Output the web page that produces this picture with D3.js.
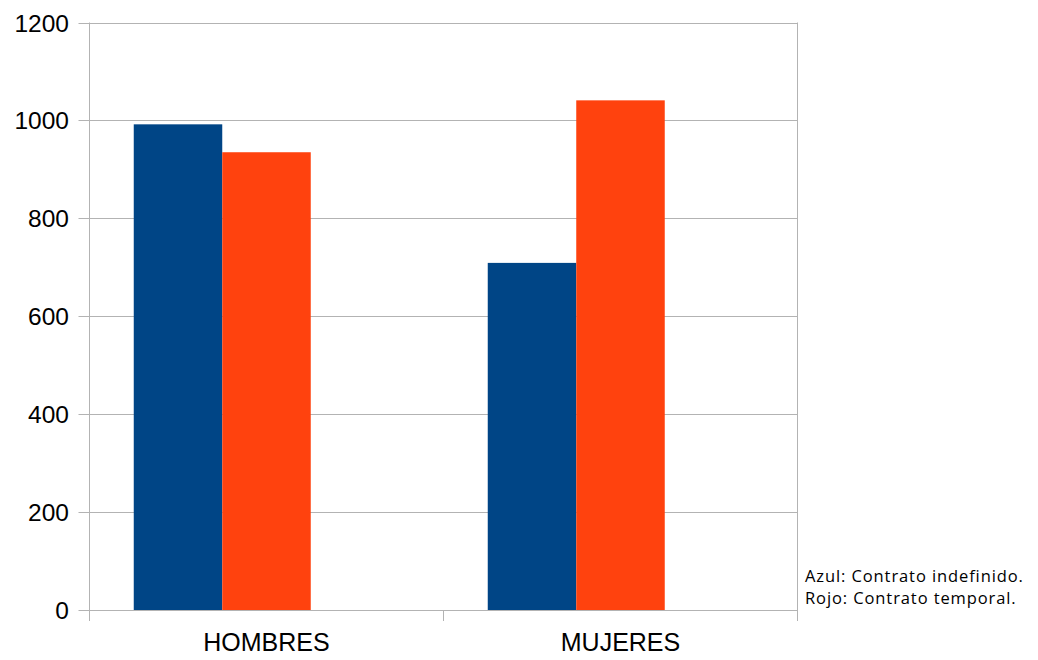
<!DOCTYPE html>
<html><head><meta charset="utf-8">
<script src="https://cdn.jsdelivr.net/npm/d3@7"></script>
<style>body{margin:0;background:#fff}</style>
</head><body>
<svg id="c" width="1038" height="660"></svg>
<script>
const categories = ["HOMBRES", "MUJERES"];
const seriesNames = ["Contrato indefinido", "Contrato temporal"];
const indefinido = [992, 709];
const temporal = [935, 1041];
const yTicks = [0, 200, 400, 600, 800, 1000, 1200];
const legendLines = ["Azul: Contrato indefinido.", "Rojo: Contrato temporal."];
const colors = ["#004586", "#ff420e"];

(function () {
const svg = d3.select("#c");
const mLeft = 89.5, mRight = 797.5, mTop = 22.5, mBottom = 610;
const x = d3.scaleBand().domain(categories).range([mLeft, mRight]).padding(0);
const xi = d3.scaleBand().domain(seriesNames).range([0, x.bandwidth() * 0.75]).paddingOuter(0.5).paddingInner(0);
const y = d3.scaleLinear().domain([0, 1200]).range([mBottom, mTop]);

// gridlines
svg.append("g").selectAll("line").data(yTicks).join("line")
  .attr("x1", mLeft - 11).attr("x2", mRight)
  .attr("y1", d => Math.round(y(d)) + 0.5).attr("y2", d => Math.round(y(d)) + 0.5)
  .attr("stroke", "#b3b3b3").attr("stroke-width", 1);

// bars
const data = categories.map((c, i) => ({c, vals: [indefinido[i], temporal[i]]}));
const g = svg.append("g");
data.forEach(d => {
  d.vals.forEach((v, j) => {
    g.append("rect")
      .attr("x", x(d.c) + xi(seriesNames[j]))
      .attr("width", xi.bandwidth())
      .attr("y", y(v))
      .attr("height", y(0) - y(v))
      .attr("fill", colors[j]);
  });
});

// axis lines
const ax = svg.append("g").attr("stroke", "#b3b3b3").attr("stroke-width", 1);
ax.append("line").attr("x1", mLeft).attr("x2", mLeft).attr("y1", mTop).attr("y2", mBottom + 11);
ax.append("line").attr("x1", mRight).attr("x2", mRight).attr("y1", mTop).attr("y2", mBottom + 11);
ax.append("line").attr("x1", mLeft).attr("x2", mRight).attr("y1", Math.round(y(0)) + 0.5).attr("y2", Math.round(y(0)) + 0.5);
categories.slice(0, -1).forEach(c => {
  const px = x(c) + x.bandwidth();
  ax.append("line").attr("x1", px).attr("x2", px).attr("y1", mBottom).attr("y2", mBottom + 11);
});

// y labels
svg.append("g").selectAll("text").data(yTicks).join("text")
  .attr("x", 69).attr("y", d => y(d) + 9)
  .attr("text-anchor", "end")
  .attr("font-family", "Liberation Sans, Arial, sans-serif")
  .attr("font-size", 24.5).attr("fill", "#000")
  .text(d => d);

// x labels
svg.append("g").selectAll("text").data(categories).join("text")
  .attr("x", d => x(d) + x.bandwidth() / 2).attr("y", 651)
  .attr("text-anchor", "middle")
  .attr("font-family", "Liberation Sans, Arial, sans-serif")
  .attr("font-size", 25).attr("fill", "#000")
  .text(d => d);

// legend note
svg.append("g").selectAll("text").data(legendLines).join("text")
  .attr("x", 805).attr("y", (d, i) => 582 + i * 22)
  .attr("font-family", "Open Sans, sans-serif")
  .attr("font-size", 16.5).attr("letter-spacing", 0.9).attr("fill", "#000")
  .text(d => d);
})();
</script>
</body></html>
